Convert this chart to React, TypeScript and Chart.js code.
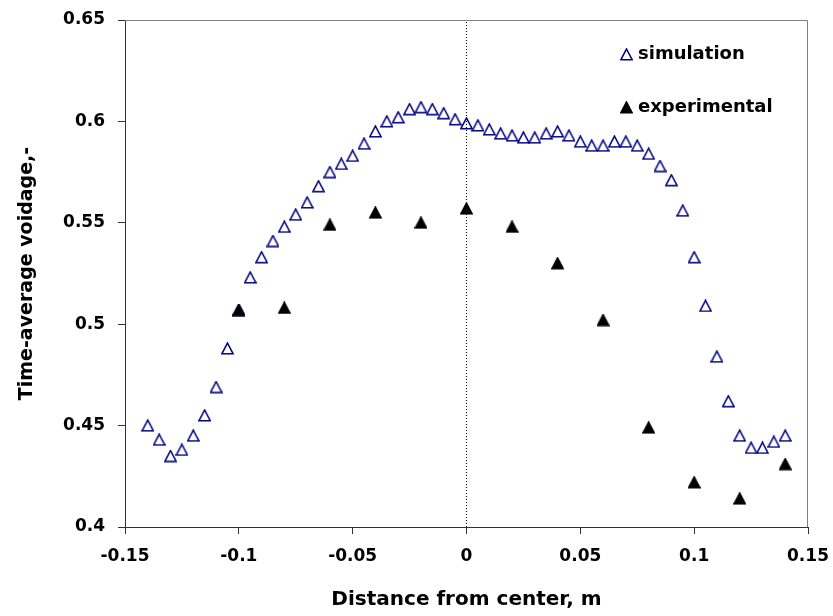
import React, { useEffect, useRef } from "react";
import { Chart, registerables } from "chart.js";

Chart.register(...registerables);

// ---- data ----
const simX = [
  -0.14, -0.135, -0.13, -0.125, -0.12, -0.115, -0.11, -0.105, -0.1, -0.095,
  -0.09, -0.085, -0.08, -0.075, -0.07, -0.065, -0.06, -0.055, -0.05, -0.045,
  -0.04, -0.035, -0.03, -0.025, -0.02, -0.015, -0.01, -0.005, 0, 0.005,
  0.01, 0.015, 0.02, 0.025, 0.03, 0.035, 0.04, 0.045, 0.05, 0.055,
  0.06, 0.065, 0.07, 0.075, 0.08, 0.085, 0.09, 0.095, 0.1, 0.105,
  0.11, 0.115, 0.12, 0.125, 0.13, 0.135, 0.14,
];
const simY = [
  0.45, 0.443, 0.435, 0.438, 0.445, 0.455, 0.469, 0.488, 0.507, 0.523,
  0.533, 0.541, 0.548, 0.554, 0.56, 0.568, 0.575, 0.579, 0.583, 0.589,
  0.595, 0.6, 0.602, 0.606, 0.607, 0.606, 0.604, 0.601, 0.599, 0.598,
  0.596, 0.594, 0.593, 0.592, 0.592, 0.594, 0.595, 0.593, 0.59, 0.588,
  0.588, 0.59, 0.59, 0.588, 0.584, 0.578, 0.571, 0.556, 0.533, 0.509,
  0.484, 0.462, 0.445, 0.439, 0.439, 0.442, 0.445,
];
const expX = [-0.1, -0.08, -0.06, -0.04, -0.02, 0, 0.02, 0.04, 0.06, 0.08, 0.1, 0.12, 0.14];
const expY = [0.507, 0.508, 0.549, 0.555, 0.55, 0.557, 0.548, 0.53, 0.502, 0.449, 0.422, 0.414, 0.431];

const xTickValues = [-0.15, -0.1, -0.05, 0, 0.05, 0.1, 0.15];
const xTickLabels = ["-0.15", "-0.1", "-0.05", "0", "0.05", "0.1", "0.15"];
const yTickValues = [0.4, 0.45, 0.5, 0.55, 0.6, 0.65];
const yTickLabels = ["0.4", "0.45", "0.5", "0.55", "0.6", "0.65"];

const zeroLineX = [0, 0];
const zeroLineY = [0.4, 0.65];

const seriesNames = ["simulation", "experimental"];
const xTitle = "Distance from center, m";
const yTitle = "Time-average voidage,-";

const FONT = "'DejaVu Sans', sans-serif";

function makeTriangle(fill: string | null, stroke: string): HTMLCanvasElement {
  const s = 13;
  const c = document.createElement("canvas");
  c.width = s;
  c.height = s;
  const g = c.getContext("2d")!;
  g.beginPath();
  g.moveTo(s / 2, 1);
  g.lineTo(s - 0.9, s - 1.3);
  g.lineTo(0.9, s - 1.3);
  g.closePath();
  if (fill) {
    g.fillStyle = fill;
    g.fill();
  }
  g.strokeStyle = stroke;
  g.lineWidth = 1.6;
  g.stroke();
  return c;
}

export default function App() {
  const ref = useRef<HTMLCanvasElement | null>(null);

  useEffect(() => {
    if (!ref.current) return;
    const simMarker = makeTriangle(null, "#000080");
    const expMarker = makeTriangle("#000000", "#000000");

    const framePlugin = {
      id: "frame",
      beforeDatasetsDraw(chart: any) {
        const { ctx, chartArea } = chart;
        ctx.save();
        ctx.strokeStyle = "#808080";
        ctx.lineWidth = 1;
        ctx.beginPath();
        ctx.moveTo(chartArea.left, chartArea.top + 0.5);
        ctx.lineTo(chartArea.right - 0.5, chartArea.top + 0.5);
        ctx.lineTo(chartArea.right - 0.5, chartArea.bottom);
        ctx.stroke();
        ctx.restore();
      },
    };

    const legendPlugin = {
      id: "customLegend",
      afterDraw(chart: any) {
        const { ctx } = chart;
        ctx.save();
        ctx.font = `bold 18px ${FONT}`;
        ctx.fillStyle = "#000";
        ctx.textBaseline = "middle";
        ctx.textAlign = "left";
        const items = [
          { m: simMarker, y: 54 },
          { m: expMarker, y: 107 },
        ];
        items.forEach((it, i) => {
          ctx.drawImage(it.m, Math.round(626 - it.m.width / 2), Math.round(it.y - it.m.height / 2));
          ctx.fillText(seriesNames[i], 638, it.y);
        });
        ctx.restore();
      },
    };

    const chart = new Chart(ref.current, {
      type: "scatter",
      data: {
        datasets: [
          {
            label: "zero",
            data: zeroLineX.map((x, i) => ({ x, y: zeroLineY[i] })),
            showLine: true,
            borderColor: "#000",
            borderWidth: 1,
            borderDash: [1, 2],
            pointRadius: 0,
            order: 3,
          },
          {
            label: seriesNames[0],
            data: simX.map((x, i) => ({ x, y: simY[i] })),
            pointStyle: simMarker as any,
            pointRadius: 6,
            order: 2,
          },
          {
            label: seriesNames[1],
            data: expX.map((x, i) => ({ x, y: expY[i] })),
            pointStyle: expMarker as any,
            pointRadius: 6,
            order: 1,
          },
        ],
      },
      options: {
        responsive: false,
        animation: false,
        events: [],
        layout: { padding: { top: 20, right: 25, left: 0, bottom: 0 } },
        plugins: {
          legend: { display: false },
          tooltip: { enabled: false },
        },
        scales: {
          x: {
            type: "linear",
            min: -0.15,
            max: 0.15,
            afterFit(scale: any) {
              scale.height = 89;
              scale.paddingLeft = 0;
              scale.paddingRight = 0;
            },
            afterBuildTicks(scale: any) {
              scale.ticks = xTickValues.map((v) => ({ value: v }));
            },
            ticks: {
              callback: (_v: any, i: number) => xTickLabels[i],
              font: { family: FONT, size: 17, weight: "bold" },
              color: "#000",
              padding: 12,
              maxRotation: 0,
            },
            grid: {
              drawOnChartArea: false,
              drawTicks: true,
              tickLength: 7,
              color: "#333",
            },
            border: { display: true, color: "#333", width: 1 },
            title: {
              display: true,
              text: xTitle,
              font: { family: FONT, size: 20, weight: "bold" },
              color: "#000",
              padding: { top: 0, bottom: 4 },
            },
          },
          y: {
            type: "linear",
            min: 0.4,
            max: 0.65,
            afterFit(scale: any) {
              scale.width = 125;
              scale.paddingTop = 0;
              scale.paddingBottom = 0;
            },
            afterBuildTicks(scale: any) {
              scale.ticks = yTickValues.map((v) => ({ value: v }));
            },
            ticks: {
              callback: (_v: any, i: number) => yTickLabels[i],
              font: { family: FONT, size: 17, weight: "bold" },
              color: "#000",
              padding: 13,
            },
            grid: {
              drawOnChartArea: false,
              drawTicks: true,
              tickLength: 7,
              color: "#333",
            },
            border: { display: true, color: "#333", width: 1 },
            title: {
              display: true,
              text: yTitle,
              font: { family: FONT, size: 19, weight: "bold" },
              color: "#000",
              padding: { top: 16, bottom: 0 },
            },
          },
        },
      },
      plugins: [framePlugin, legendPlugin],
    });

    return () => chart.destroy();
  }, []);

  return (
    <div style={{ position: "absolute", left: 0, top: 0, width: 833, height: 616, background: "#fff" }}>
      <canvas ref={ref} width={833} height={616} style={{ display: "block" }} />
    </div>
  );
}
